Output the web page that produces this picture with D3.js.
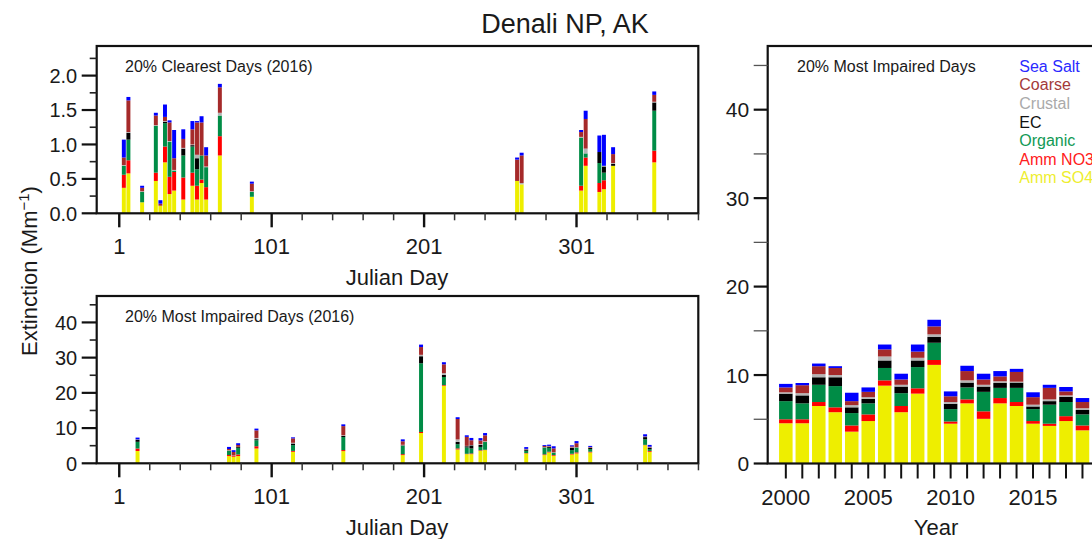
<!DOCTYPE html>
<html><head><meta charset="utf-8">
<script src="https://cdn.jsdelivr.net/npm/d3@7"></script>
<style>
body{margin:0;background:#fff}
text{font-family:"Liberation Sans",Arial,sans-serif;fill:#1a1a1a}
</style>
</head><body>
<svg id="chart" width="1092" height="539"></svg>
<script>
// ---------- species ----------
const speciesKeys   = ["so4","no3","org","ec","crust","coarse","seasalt"];
const speciesNames  = ["Amm SO4","Amm NO3","Organic","EC","Crustal","Coarse","Sea Salt"];
const speciesColors = ["#eeee00","#ff0000","#008c46","#000000","#b4b4b4","#a52a2a","#0000ff"];
const legendColors  = ["#eeee30","#ff2020","#119955","#111111","#aaaaaa","#a33a3a","#2a2aff"];

// ---------- 20% clearest days (2016) ----------
const clearDays    = [4,7,16,25,28,31,34,37,43,49,52,55,58,67,88,262,265,304,307,316,319,325,352];
const clearSO4     = [.37,.58,.16,.47,.11,.74,.28,.33,.20,.40,.20,.44,.20,.84,.24,.47,.42,.33,.69,.31,.35,.69,.74];
const clearNO3     = [.19,.19,0,.12,0,.23,.25,.27,.32,.19,.20,.05,.18,.28,0,0,0,.07,.12,.13,.13,0,.17];
const clearOrg     = [.13,.30,.15,.68,0,.34,.51,.02,.32,.38,.24,.35,.29,.30,.07,0,0,.70,.06,.29,.11,0,.58];
const clearEC      = [0,.10,0,0,0,.02,0,0,.10,.02,.16,0,0,0,0,0,0,0,0,.16,.09,.03,.12];
const clearCrust   = [.01,.01,.01,.01,0,.01,.01,.01,.01,.01,.05,0,.01,.04,.01,0,.02,.01,.07,0,.01,.01,.01];
const clearCoarse  = [.11,.46,.05,.14,.03,.06,.27,.17,.13,.22,.47,.48,.16,.37,.11,.31,.40,.07,.43,0,0,.13,.10];
const clearSeaSalt = [.26,.05,.03,.04,.05,.18,.03,.41,.14,.12,.02,.09,.12,.05,.03,.03,.04,.03,.12,.24,.45,.10,.05];

// ---------- 20% most impaired days (2016) ----------
const impDays    = [13,73,76,79,91,115,148,187,199,214,223,229,232,238,241,268,280,283,286,298,301,310,346,349];
const impSO4     = [3.5,2.05,1.87,2.05,4.2,3.27,3.46,2.33,8.6,22.0,3.93,2.6,2.6,3.55,3.74,2.8,2.33,3.09,2.14,2.5,2.8,3.09,5.14,3.27];
const impNO3     = [.7,.3,.25,.45,.65,.25,.3,.27,.3,.2,.3,.1,.2,.15,.1,.1,.2,.2,.2,.2,.3,.2,.1,.25];
const impOrg     = [1.9,1.25,0,1.9,1.7,1.65,3.7,2.35,19.5,2.3,1.2,1.8,1.4,.95,2.2,.65,1.9,1.1,.7,1.05,1.3,.75,1.6,.5];
const impEC      = [.6,0,0,.3,.3,.45,.3,.15,2.0,.6,.65,.35,.9,.6,0,.35,.1,.3,0,.6,.1,.35,.6,.4];
const impCrust   = [.1,.1,.1,0,.35,.2,.2,.15,.4,.5,.7,.1,.1,.2,.2,.1,.1,.1,.1,.15,.1,.1,.1,.1];
const impCoarse  = [0,.35,1.0,.5,2.15,1.25,2.6,1.0,2.2,2.5,5.8,2.55,1.35,1.05,1.7,.1,.3,.15,1.1,.3,1.1,.15,.1,.2];
const impSeaSalt = [.5,.6,.5,.5,.5,.3,.5,.55,.7,.6,.5,.45,.65,.65,.65,.5,.25,.35,.6,.3,.6,.3,.6,.5];

// ---------- 20% most impaired days, annual ----------
const years       = [2000,2001,2002,2003,2004,2005,2006,2007,2008,2009,2010,2011,2012,2013,2014,2015,2016,2017,2018];
const yrSO4       = [4.55,4.55,6.5,5.8,3.6,4.8,8.8,5.8,7.9,11.15,4.5,6.8,5.05,6.8,6.5,4.5,4.25,4.8,3.75];
const yrNO3       = [.45,.45,.45,.55,.7,.75,.6,.7,.6,.55,.25,.45,.85,.6,.45,.3,.25,.55,.55];
const yrOrg       = [2.05,1.8,1.95,2.4,1.4,1.25,1.4,1.45,2.4,1.95,1.4,1.35,2.2,1.15,1.6,1.35,2.15,1.6,1.25];
const yrEC        = [.85,.9,.85,1.0,.65,.5,.85,.75,.75,.65,.6,.55,.6,.55,.6,.3,.4,.6,.5];
const yrCrust     = [.15,.25,.35,.25,.25,.2,.45,.2,.3,.3,.2,.25,.2,.2,.1,.2,.2,.15,.2];
const yrCoarse    = [.55,.9,.9,.8,.45,.6,.8,.6,.7,.9,.65,1.05,.6,.55,1.1,.85,1.3,.45,.7];
const yrSeaSalt   = [.4,.25,.3,.2,.95,.5,.55,.65,.8,.75,.55,.6,.65,.6,.35,.55,.35,.5,.45];

// tick labels
const dayTickLabels  = [1,101,201,301];
const yearTickLabels = [2000,2005,2010,2015];

function rows(cats, arrs){
  return cats.map((c,i)=>{
    const r={cat:c};
    speciesKeys.forEach((k,j)=>r[k]=arrs[j][i]);
    return r;
  });
}
const clearRows = rows(clearDays,[clearSO4,clearNO3,clearOrg,clearEC,clearCrust,clearCoarse,clearSeaSalt]);
const impRows   = rows(impDays,[impSO4,impNO3,impOrg,impEC,impCrust,impCoarse,impSeaSalt]);
const yrRows    = rows(years,[yrSO4,yrNO3,yrOrg,yrEC,yrCrust,yrCoarse,yrSeaSalt]);

const stack = d3.stack().keys(speciesKeys);
const color = d3.scaleOrdinal().domain(speciesKeys).range(speciesColors);

const svg = d3.select("#chart");

// title
svg.append("text").attr("x",565).attr("y",33).attr("text-anchor","middle")
  .style("font-size","27px").text("Denali NP, AK");

function drawBars(g, data, x, y, halfW){
  const series = stack(data);
  g.selectAll("g.s").data(series).join("g").attr("class","s")
    .attr("fill",d=>color(d.key))
    .selectAll("rect").data(d=>d).join("rect")
    .attr("x",d=>x(d.data.cat-halfW))
    .attr("width",d=>x(d.data.cat+halfW)-x(d.data.cat-halfW))
    .attr("y",d=>y(d[1]))
    .attr("height",d=>Math.max(0,y(d[0])-y(d[1])));
}

function yTicks(g, y, x0, majors, minors, fmt, fs, majLen, minLen, minColor, minW){
  minors.forEach(v=>{
    g.append("line").attr("x1",x0-minLen).attr("x2",x0).attr("y1",y(v)).attr("y2",y(v))
      .attr("stroke",minColor).attr("stroke-width",minW);
  });
  majors.forEach(v=>{
    g.append("line").attr("x1",x0-majLen).attr("x2",x0).attr("y1",y(v)).attr("y2",y(v))
      .attr("stroke","#111").attr("stroke-width",2.2);
    g.append("text").attr("x",x0-majLen-4.5).attr("y",y(v)).attr("dy","0.36em")
      .attr("text-anchor","end").style("font-size",fs+"px").text(fmt(v));
  });
}

// ---------- left panels ----------
const L = {x0:96.7, x1:698.3};
const xDay = d3.scaleLinear().domain([-13.8,380.9]).range([L.x0,L.x1]);
const dayMinor = d3.range(21,382,20).filter(d=>!dayTickLabels.includes(d));

function leftPanel(top, bottom, yMax, data, title, yMajors, yMinors, fmt){
  const g = svg.append("g");
  const y = d3.scaleLinear().domain([0,yMax]).range([bottom,top]);
  drawBars(g.append("g"), data, xDay, y, 1.3);
  g.append("rect").attr("x",L.x0).attr("y",top).attr("width",L.x1-L.x0).attr("height",bottom-top)
    .attr("fill","none").attr("stroke","#111").attr("stroke-width",2.2);
  yTicks(g, y, L.x0, yMajors, yMinors, fmt, 20, 15, 7, "#222", 1.6);
  dayMinor.forEach(d=>{
    g.append("line").attr("x1",xDay(d)).attr("x2",xDay(d)).attr("y1",bottom).attr("y2",bottom+7)
      .attr("stroke","#333").attr("stroke-width",1.5);
  });
  dayTickLabels.forEach(d=>{
    g.append("line").attr("x1",xDay(d)).attr("x2",xDay(d)).attr("y1",bottom).attr("y2",bottom+14)
      .attr("stroke","#111").attr("stroke-width",2.4);
    g.append("text").attr("x",xDay(d)).attr("y",bottom+41).attr("text-anchor","middle")
      .style("font-size","22px").text(d);
  });
  g.append("text").attr("x",397).attr("y",bottom+72).attr("text-anchor","middle")
    .style("font-size","22px").text("Julian Day");
  g.append("text").attr("x",125).attr("y",top+25.7).style("font-size","16px").text(title);
}

leftPanel(46, 213.3, 2.43, clearRows, "20% Clearest Days (2016)",
  [0,0.5,1,1.5,2], [0.25,0.75,1.25,1.75,2.25], d3.format(".1f"));
leftPanel(296, 463.3, 47.5, impRows, "20% Most Impaired Days (2016)",
  [0,10,20,30,40], [5,15,25,35,45], d3.format("d"));

// y-axis title
const yt = svg.append("text").attr("transform","translate(37,271) rotate(-90)")
  .attr("text-anchor","middle").style("font-size","22px");
yt.append("tspan").text("Extinction (Mm");
yt.append("tspan").attr("dy","-8").style("font-size","15px").text("\u22121");
yt.append("tspan").attr("dy","8").text(")");

// ---------- right panel ----------
const R = {x0:767.7, x1:1125, top:46, bottom:463.5};
const xYear = d3.scaleLinear().domain([1998.9, 1998.9+(R.x1-R.x0)/16.48]).range([R.x0,R.x1]);
const yR = d3.scaleLinear().domain([0,47.2]).range([R.bottom,R.top]);
const gR = svg.append("g");
drawBars(gR.append("g"), yrRows, xYear, yR, 0.41);
gR.append("rect").attr("x",R.x0).attr("y",R.top).attr("width",R.x1-R.x0).attr("height",R.bottom-R.top)
  .attr("fill","none").attr("stroke","#111").attr("stroke-width",2.2);
yTicks(gR, yR, R.x0, [0,10,20,30,40], [5,15,25,35,45], d3.format("d"), 21, 14, 14, "#555", 1.3);
d3.range(2000,2021).forEach(yv=>{
  gR.append("line").attr("x1",xYear(yv)).attr("x2",xYear(yv)).attr("y1",R.bottom).attr("y2",R.bottom+15)
    .attr("stroke","#111").attr("stroke-width",2);
});
yearTickLabels.forEach(yv=>{
  gR.append("text").attr("x",xYear(yv)).attr("y",R.bottom+41).attr("text-anchor","middle")
    .style("font-size","22px").text(yv);
});
gR.append("text").attr("x",936).attr("y",R.bottom+71).attr("text-anchor","middle")
  .style("font-size","22px").text("Year");
gR.append("text").attr("x",797).attr("y",72).style("font-size","16px").text("20% Most Impaired Days");

// legend (top = Sea Salt)
const legOrder = d3.range(speciesKeys.length).reverse();
legOrder.forEach((i,k)=>{
  gR.append("text").attr("x",1019.3).attr("y",71.7+k*18.6).style("font-size","16px")
    .style("fill",legendColors[i]).text(speciesNames[i]);
});
</script>
</body></html>
